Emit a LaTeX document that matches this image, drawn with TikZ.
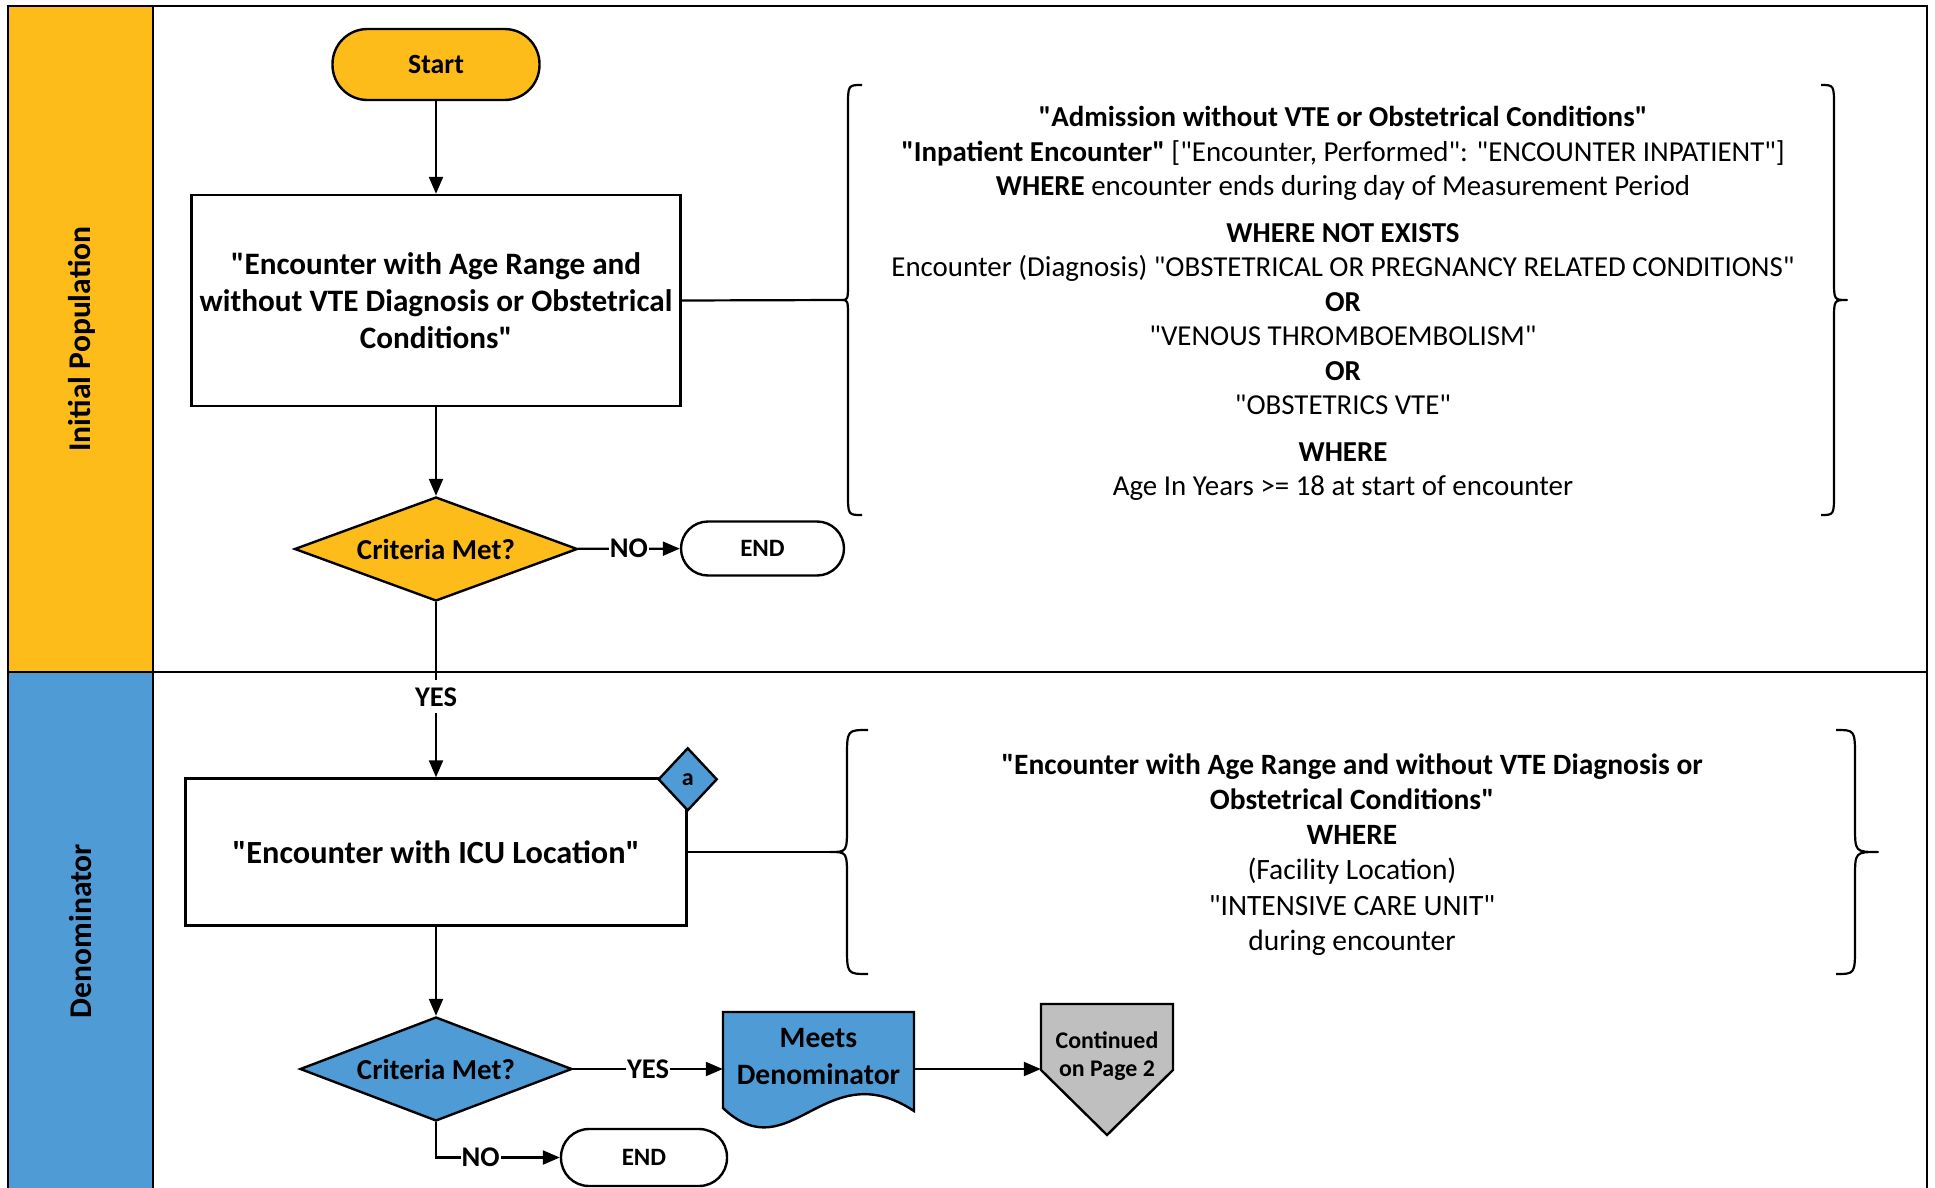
\documentclass[tikz,border=0pt]{standalone}
\usepackage{fontspec}
\setmainfont{Carlito}[Ligatures=TeXOff]
\usetikzlibrary{shapes.geometric,arrows.meta,calc}
\definecolor{ylw}{RGB}{253,188,26}
\definecolor{blu}{RGB}{78,155,214}
\definecolor{gry}{RGB}{191,191,191}
\begin{document}
\begin{tikzpicture}[x=1pt,y=-1pt,
  frame/.style={line width=2pt},
  box/.style={draw,line width=2.4pt,fill=white,align=center,inner sep=0pt,font=\fontsize{31.2}{37}\selectfont\bfseries},
  term/.style={draw,line width=2.4pt,align=center,inner sep=0pt},
  dia/.style={draw,diamond,line width=2.4pt,inner sep=0pt,font=\fontsize{28.9}{32}\selectfont\bfseries},
  arr/.style={line width=2.2pt,-{Triangle[length=17pt,width=14pt]}},
  lbl/.style={fill=white,inner xsep=1pt,inner ysep=7pt,font=\fontsize{28.5}{30}\selectfont\bfseries},
  lane/.style={font=\fontsize{31.6}{34}\selectfont\bfseries},
  desc/.style={align=center,inner sep=0pt},
  brace/.style={line width=2.2pt,line join=round}]
\useasboundingbox (0,0) rectangle (1935,1188);
% lanes
\fill[ylw] (8,6) rectangle (153,672);
\fill[blu] (8,672) rectangle (153,1192);
\draw[frame] (1927,1192) -- (1927,6) -- (8,6) -- (8,1192);
\draw[frame] (153,6) -- (153,1192);
\draw[frame] (8,672) -- (1927,672);
\node[lane,rotate=90] (lane1) at (82,339) {Initial Population};
\node[lane,rotate=90] (lane2) at (81,931) {Denominator};
% nodes
\node[term,fill=ylw,rounded corners=35pt,minimum width=207pt,minimum height=71pt,font=\fontsize{27.8}{30}\selectfont\bfseries] (start) at (436,64.5) {Start};
\node[box,minimum width=489pt,minimum height=211pt] (b1) at (436,300.5) {"Encounter with Age Range and\\without VTE Diagnosis or Obstetrical\\Conditions"};
\node[dia,fill=ylw,aspect=2.72,minimum width=283pt,minimum height=104pt] (d1) at (436,549) {Criteria Met?};
\node[term,fill=white,rounded corners=27pt,minimum width=163pt,minimum height=54pt,font=\fontsize{25}{28}\selectfont\bfseries] (end1) at (762.5,548.5) {END};
\node[box,minimum width=501pt,minimum height=147pt,font=\fontsize{32.3}{37}\selectfont\bfseries] (b2) at (436,852) {"Encounter with ICU Location"};
\node[dia,fill=blu,aspect=0.93,minimum width=59pt,minimum height=63pt,font=\fontsize{24}{26}\selectfont\bfseries] (a) at ($(b2.north east)+(0,2)$) {a};
\node[dia,fill=blu,aspect=2.6,minimum width=272pt,minimum height=104pt] (d2) at (436,1069) {Criteria Met?};
\node[term,fill=white,rounded corners=28pt,minimum width=166pt,minimum height=57pt,font=\fontsize{25}{28}\selectfont\bfseries] (end2) at (644,1157.5) {END};
% document shape
\draw[line width=2.4pt,fill=blu] (723,1012) -- (914,1012) -- (914,1111)
  .. controls (825,1052) and (790,1172) .. (723,1108) -- cycle;
\node[align=center,inner sep=0pt,minimum width=191pt,font=\fontsize{29.6}{37}\selectfont\bfseries] (doc) at (818.5,1056.5) {Meets\\Denominator};
% off-page shape
\draw[line width=2.4pt,fill=gry] (1041,1004) -- (1173,1004) -- (1173,1070) -- (1107,1135) -- (1041,1070) -- cycle;
\node[align=center,inner sep=0pt,minimum width=132pt,font=\fontsize{23.9}{28.5}\selectfont\bfseries] (cont) at (1107,1056) {Continued\\on Page 2};
% braces
\coordinate (t1) at (842,300);
\coordinate (t2) at (830,852);
\draw[brace] (862,85) .. controls (848,85) .. (848,107) -- (848,280) .. controls (848,300) .. (t1)
  .. controls (848,300) .. (848,320) -- (848,493) .. controls (848,515) .. (862,515);
\draw[brace] (1821,85) .. controls (1834,85) .. (1834,107) -- (1834,280) .. controls (1834,300) .. (1847,300)
  .. controls (1834,300) .. (1834,320) -- (1834,493) .. controls (1834,515) .. (1821,515);
\draw[brace] (868,730) .. controls (847,730) .. (847,758) -- (847,826) .. controls (847,852) .. (t2)
  .. controls (847,852) .. (847,878) -- (847,946) .. controls (847,974) .. (868,974);
\draw[brace] (1836,730) .. controls (1855,730) .. (1855,758) -- (1855,826) .. controls (1855,852) .. (1878,852)
  .. controls (1855,852) .. (1855,878) -- (1855,946) .. controls (1855,974) .. (1836,974);
% descriptions
\node[desc,font=\fontsize{28.9}{34.5}\selectfont] (desc1) at (1343,303.5) {\textbf{"Admission without VTE or Obstetrical Conditions"}\\
\textbf{"Inpatient Encounter"} ["Encounter, Performed": "ENCOUNTER INPATIENT"]\\
\textbf{WHERE} encounter ends during day of Measurement Period\\[12pt]
\textbf{WHERE NOT EXISTS}\\
Encounter (Diagnosis) "OBSTETRICAL OR PREGNANCY RELATED CONDITIONS"\\
\textbf{OR}\\
"VENOUS THROMBOEMBOLISM"\\
\textbf{OR}\\
"OBSTETRICS VTE"\\[12pt]
\textbf{WHERE}\\
Age In Years >= 18 at start of encounter};
\node[desc,font=\fontsize{29.5}{35.2}\selectfont] (desc2) at (1352,854.5) {\textbf{"Encounter with Age Range and without VTE Diagnosis or}\\
\textbf{Obstetrical Conditions"}\\
\textbf{WHERE}\\
(Facility Location)\\
"INTENSIVE CARE UNIT"\\
during encounter};
% connectors
\draw[arr] (start) -- (b1);
\draw[arr] (b1) -- (d1);
\draw[arr] (d1) -- node[lbl,pos=0.5]{NO} (end1);
\draw[arr] (d1) -- node[lbl,pos=0.54]{YES} (b2);
\draw[arr] (b2) -- (d2);
\draw[arr] (d2.east) -- node[lbl,pos=0.5]{YES} (d2.east -| doc.west);
\draw[arr] (d2.east -| doc.east) -- (d2.east -| cont.west);
\draw[arr] (d2.south) |- node[lbl,pos=0.68]{NO} (end2.west);
\draw[line width=2.2pt] (b1.east) -- (t1);
\draw[line width=2.2pt] (b2.east |- t2) -- (t2);
\end{tikzpicture}
\end{document}
